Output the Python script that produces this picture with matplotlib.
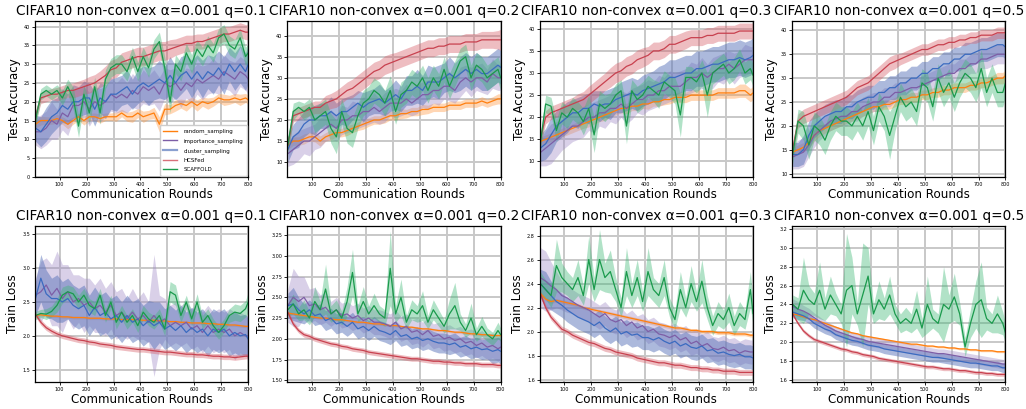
import numpy as np
import matplotlib
matplotlib.use("Agg")
import matplotlib.pyplot as plt
from matplotlib.lines import Line2D

rounds = np.append(np.arange(10, 800, 20), 800)
methods = ["random_sampling", "importance_sampling", "cluster_sampling", "HCSFed", "SCAFFOLD"]
q_labels = ["0.1", "0.2", "0.3", "0.5"]

# ---------------- Test accuracy, q = 0.1 ----------------
acc_q01_random = [14,15,15,15,15.5,15,14,15,16,15, 16,16,15.5,16,16,16,17,16,16,17, 16,16.5,17,14,18,18,19,19.5,19,20, 19,20,19.5,20,21,20.5,20.5,21,20.5,21, 20.5]
acc_q01_importance = [12,12,13,15,14,17,16,19,19,20, 18,20,19,20,22,21,22,21,23,22, 24,23,24,22,25,24,25,23,25,24, 26,25,26,27,26,28,27,26,28,27, 26]
acc_q01_cluster = [13,12,14,16,17,19,18,20,20,21, 21,18,21,20,22,22,23,24,22,24, 25,24,25,26,25,27,25,27,28,26, 28,26,28,27,29,27,30,28,30,28, 30]
acc_q01_hcsfed = [16,21,21.5,22,22,22.5,23,23,23.5,24, 24.5,25,26,27,28.5,29,30.5,31,31.5,32, 32,32.5,33,33.5,33.5,34,34.5,35,35.5,35.5, 36,36,36.5,37,37.5,38,38,38.5,39,38.5, 38.5]
acc_q01_scaffold = [15,22,23,22,23,21,24,21,13.5,22, 17,24,17,26,29,30,30,28,32,28, 32,29,34,36,29,20,30,28,33,30, 34,32,35,33,37,38,35,34,37,32, 33]
acc_q01_random_sd = [1.0,1.2,1.0,1.0,1.2,1.0,1.2,1.0,1.0,1.2, 1.0,1.0,1.2,1.0,1.0,1.2,1.0,1.2,1.5,1.2, 1.5,1.2,1.5,2.0,1.5,1.2,1.5,1.2,1.5,1.2, 1.5,1.2,1.5,1.2,1.2,1.5,1.2,1.2,1.5,1.2, 1.2]
acc_q01_importance_sd = [3.5,4.5,4.5,5.0,4.0,4.5,5.0,4.0,4.5,4.0, 4.5,4.0,4.5,4.0,4.5,4.0,4.5,4.0,4.5,4.0, 4.5,4.0,4.5,4.5,4.0,4.5,4.0,4.5,4.0,4.5, 4.0,4.5,4.0,4.5,4.0,4.5,4.0,4.5,4.0,4.0, 4.0]
acc_q01_cluster_sd = [3.5,4.0,4.5,4.5,4.0,4.5,4.0,4.5,4.0,4.5, 4.0,4.5,4.0,4.5,4.0,4.5,4.0,4.5,4.0,4.5, 4.5,5.0,4.5,5.0,4.5,5.0,4.5,5.0,4.5,5.0, 4.5,5.0,4.5,5.0,4.5,5.0,4.5,5.0,5.0,5.0, 5.0]
acc_q01_hcsfed_sd = [1.5,1.5,1.5,1.5,1.8,1.8,1.8,2.0,2.0,2.0, 2.2,2.2,2.2,2.5,2.5,2.5,2.5,2.5,2.5,2.5, 2.5,2.5,2.5,2.5,2.5,2.5,2.2,2.2,2.2,2.2, 2.0,2.0,2.0,2.0,2.0,2.0,2.0,2.0,2.0,2.0, 2.0]
acc_q01_scaffold_sd = [2.0,1.5,1.5,1.5,1.5,2.0,2.0,3.0,3.0,2.5, 3.0,2.5,3.0,2.5,2.5,2.5,2.5,2.5,2.5,2.5, 2.5,2.5,2.5,2.5,3.0,3.0,2.5,2.5,2.5,2.5, 2.5,2.5,2.5,2.5,2.5,2.5,2.5,2.5,2.5,2.5, 2.5]

# ---------------- Test accuracy, q = 0.2 ----------------
acc_q02_random = [14,15,15,15.5,16,16,15,16,16.5,17, 17,17.5,18,18.5,19,19.5,20,20,20.5,21, 21,21.5,21.5,22,22,22.5,22.5,23,23,23, 23.5,23.5,23.5,24,24,24,24.5,24,24.5,25, 25]
acc_q02_importance = [12,13,14,15,15,16,17,18,19,18, 20,20,21,21,22,22,23,22,23,24, 24,24,25,24,25,26,26,27,27,28, 28,27,29,30,29,30,30,29,31,30, 30]
acc_q02_cluster = [13,16,17,19,20,20,21,21,22,21, 22,22,23,24,23,24,24.5,25,24,25, 26,25,27,27,28,27,29,29,29,30, 31,30,31,32,31,32,31,31,32,33, 32.5]
acc_q02_hcsfed = [14,21,21.5,22,22.5,23,23,24,24.5,25, 26,27,27.5,28.5,29.5,30.5,31.5,32,33,33.5, 34,34.5,35,35.5,36,36.5,37,37,37.5,37.5, 38,38,38,38.5,38.5,38.5,39,39,39,39, 39]
acc_q02_scaffold = [14,22,23,22,23,20,21,22,18,16, 22,18,17,21,24,25,27,26,24,27, 22,26,27,29,28,30,27,30,28,32, 28,31,34,35,30,33,32,30,31,32, 30]
acc_q02_random_sd = [1.0,1.0,1.0,1.2,1.0,1.2,1.2,1.0,1.2,1.0, 1.0,1.2,1.0,1.0,1.2,1.0,1.0,1.0,1.2,1.0, 1.0,1.2,1.0,1.0,1.0,1.2,1.0,1.0,1.0,1.0, 1.0,1.0,1.0,1.0,1.0,1.0,1.0,1.0,1.0,1.2, 1.2]
acc_q02_importance_sd = [3.0,3.5,3.5,3.0,3.5,3.0,3.5,3.0,3.5,3.0, 3.5,3.0,3.5,3.0,3.5,3.0,3.5,3.0,3.5,3.0, 3.5,3.0,3.5,3.0,3.5,3.0,3.5,3.0,3.5,3.0, 3.5,3.0,3.5,3.0,3.5,3.0,3.5,3.0,3.5,3.0, 3.0]
acc_q02_cluster_sd = [3.0,3.0,3.5,3.0,3.0,3.5,3.0,3.0,3.5,3.0, 3.0,3.5,3.0,3.0,3.5,3.0,3.0,3.5,3.0,3.0, 3.5,3.0,3.5,3.5,4.0,3.5,4.0,3.5,4.0,3.5, 4.0,3.5,4.0,4.0,4.0,4.0,4.0,4.0,4.0,4.0, 4.0]
acc_q02_hcsfed_sd = [1.5,1.5,1.5,1.5,1.5,1.5,1.5,1.8,1.8,2.0, 2.0,2.0,2.2,2.2,2.2,2.2,2.2,2.2,2.2,2.2, 2.0,2.0,2.0,2.0,2.0,2.0,2.0,2.0,2.0,2.0, 2.0,2.0,2.0,2.0,2.0,2.0,2.0,2.0,2.0,2.2, 2.5]
acc_q02_scaffold_sd = [2.0,2.0,1.5,2.0,2.0,3.0,3.0,3.0,3.5,4.0, 3.0,3.5,3.5,3.0,3.0,3.0,3.0,3.0,3.0,3.5, 3.0,3.0,3.0,3.0,3.0,3.0,3.0,3.0,3.0,3.0, 3.0,3.0,3.0,3.0,3.0,3.0,3.0,3.0,3.0,3.0, 3.0]

# ---------------- Test accuracy, q = 0.3 ----------------
acc_q03_random = [14.5,15,15.5,16,16.5,17,17.5,18,18.5,19, 19.5,20,20.5,21,21.5,22,22,22.5,22.5,23, 23,23.5,23.5,24,24,24.5,24.5,24.5,25,25, 25,25,25,25.5,25.5,25.5,25.5,26,26,25, 25.5]
acc_q03_importance = [12,13,14,15,16,17,18,18,19,20, 20,21,21,22,22,23,22,23,24,24, 25,25,26,26,27,27,27,28,29,29, 30,29,30,31,31,32,31,32,33,33, 33]
acc_q03_cluster = [13,14,16,18,19,20,21,21,22,22, 23,22.5,23,23,24,24.5,25,25.5,25,26, 26.5,27,27.5,28,29,29,29.5,30,30,31, 31,31.5,32,32,32.5,33,33,33.5,33,33.5, 34]
acc_q03_hcsfed = [15,20,21,21.5,22,22.5,23,23.5,24,25, 26,27,28,29,30,30.5,31.5,32,33,33.5, 34,35,35,35.5,36.5,36.5,37,37.5,38,38, 38,38.5,38.5,39,39,39,39,39.5,39.5,39.5, 39.5]
acc_q03_scaffold = [14,23,22.5,17,21,20,22,21,19,22, 16,23,22,23,25,26,18,26,24,25, 27,26,25,28,27,26,20.5,29,29,28, 30,25,30,31,32,30,31,33,30,31, 29.5]
acc_q03_random_sd = [1.0,1.0,1.0,1.0,1.0,1.0,1.0,1.0,1.0,1.2, 1.0,1.0,1.2,1.0,1.0,1.0,1.2,1.0,1.0,1.0, 1.2,1.0,1.0,1.2,1.0,1.0,1.2,1.2,1.2,1.2, 1.2,1.2,1.2,1.2,1.2,1.2,1.2,1.5,1.5,1.5, 1.5]
acc_q03_importance_sd = [3.0,4.0,4.5,4.0,3.5,3.5,3.5,3.0,3.5,3.0, 3.5,3.0,3.5,3.0,3.5,3.0,3.5,3.5,3.0,3.5, 3.5,3.0,3.5,3.0,3.5,3.0,3.5,3.0,3.5,3.0, 3.5,3.0,3.5,3.0,3.5,3.0,3.5,3.0,3.5,3.0, 3.0]
acc_q03_cluster_sd = [3.0,3.5,4.0,3.5,3.5,3.5,3.0,3.5,3.0,3.5, 3.0,3.5,3.0,3.5,3.0,3.5,3.5,3.5,3.5,3.5, 3.5,3.5,4.0,4.0,4.0,4.0,4.0,4.0,4.0,4.0, 4.0,4.0,4.0,4.0,4.0,4.0,4.0,4.0,4.0,4.0, 4.0]
acc_q03_hcsfed_sd = [1.5,1.5,1.5,1.5,1.5,1.5,1.5,1.8,1.8,2.0, 2.0,2.0,2.0,2.2,2.2,2.2,2.2,2.2,2.2,2.2, 2.0,2.0,2.0,2.0,2.0,2.0,2.0,2.0,1.8,1.8, 1.8,1.8,1.8,1.8,1.8,1.8,1.8,1.8,1.8,1.8, 1.8]
acc_q03_scaffold_sd = [2.0,2.0,2.0,2.5,2.5,2.5,2.5,2.5,3.0,3.0, 4.0,3.0,3.0,2.5,2.5,2.5,4.0,2.5,3.0,3.0, 2.5,2.5,3.0,2.5,2.5,3.0,5.0,2.5,2.5,2.5, 3.0,5.0,2.5,2.5,2.5,2.5,2.5,2.5,2.5,2.5, 2.5]

# ---------------- Test accuracy, q = 0.5 ----------------
acc_q05_random = [14.5,15,15.5,16.5,18,19,19.5,20,20.5,21, 21.5,22,22.5,23,23.5,24,24,24.5,24.5,25, 25.5,25.5,26,26,26.5,26.5,27,27,27.5,27.5, 28,28,28,28.5,28.5,29,29,29.5,30,30, 30.5]
acc_q05_importance = [13.5,14,14.5,16,18,19,20,21,21.5,22, 22,23,23,24,24.5,25,25,26,26,27, 27,27.5,28,28,28.5,29,29.5,30,30.5,31, 31,32,32,33,33,34,34,34.5,35,35, 35]
acc_q05_cluster = [14,14,15,18,20,21,22,22.5,23,23, 24,24,25,25.5,26,26,27,27,28,28, 29,29,30,30,31,31,32,32,33,33, 34,34,35,35,35.5,36,36,36.5,37,37, 36.5]
acc_q05_hcsfed = [15,21,22,22.5,23,23.5,24,24.5,25,25.5, 26,27,28,28.5,29,30,31,32,33,33.5, 34,34.5,35,35.5,36,36,36.5,37,37,37.5, 37.5,38,38,38.5,38.5,39,39,39,39.5,39.5, 39.5]
acc_q05_scaffold = [14,21,20,16,20,19,17,20,22,21, 21,20,22,20,23,19,24,22,18,22, 26,24,25,23,29,28,24,30,27,29, 26,29,31,30,28,32,27,30,27,27, 29]
acc_q05_random_sd = [1.0,1.0,1.0,1.2,1.2,1.2,1.0,1.0,1.0,1.0, 1.0,1.0,1.0,1.0,1.0,1.0,1.0,1.0,1.0,1.0, 1.0,1.0,1.0,1.0,1.0,1.0,1.0,1.0,1.0,1.0, 1.0,1.0,1.0,1.0,1.0,1.0,1.0,1.0,1.2,1.2, 1.2]
acc_q05_importance_sd = [2.5,3.0,3.0,2.5,2.5,2.0,2.0,2.0,2.0,2.0, 2.0,2.0,2.0,2.0,2.0,2.0,2.0,2.0,2.0,2.0, 2.0,2.0,2.0,2.0,2.0,2.0,2.0,2.0,2.0,2.0, 2.0,2.0,2.0,2.0,2.0,2.0,2.0,2.0,2.0,2.0, 2.0]
acc_q05_cluster_sd = [2.5,2.5,3.0,3.0,2.5,2.5,2.5,2.5,2.5,2.5, 2.5,2.5,2.5,2.5,2.5,2.5,2.5,2.5,2.5,2.5, 2.5,2.5,2.5,2.5,2.5,2.5,2.5,2.5,2.5,2.5, 2.5,2.5,2.5,2.5,2.5,2.5,2.5,2.5,2.5,2.5, 2.5]
acc_q05_hcsfed_sd = [1.5,1.5,1.5,1.5,1.5,1.5,1.5,1.5,1.5,1.5, 1.5,1.5,1.5,1.5,1.5,1.5,1.5,1.5,1.5,1.5, 1.2,1.2,1.2,1.2,1.2,1.2,1.2,1.2,1.2,1.2, 1.2,1.2,1.2,1.2,1.2,1.2,1.2,1.2,1.2,1.2, 1.2]
acc_q05_scaffold_sd = [2.0,2.5,3.0,3.0,3.0,3.0,3.0,3.0,3.0,3.0, 3.0,3.0,3.0,3.0,3.0,3.0,3.0,3.0,5.0,3.0, 3.0,3.0,3.0,3.0,3.0,3.0,3.0,3.0,3.0,3.0, 3.0,3.0,3.0,3.0,3.0,4.0,3.0,3.0,3.0,3.0, 3.0]

# ---------------- Train loss, q = 0.1 ----------------
loss_q01_random = [2.30,2.31,2.30,2.29,2.29,2.28,2.28,2.27,2.27,2.27, 2.26,2.26,2.26,2.25,2.25,2.25,2.24,2.24,2.24,2.24, 2.23,2.23,2.23,2.22,2.22,2.21,2.21,2.20,2.20,2.19, 2.19,2.19,2.18,2.18,2.17,2.17,2.16,2.16,2.15,2.14, 2.14]
loss_q01_importance = [2.60,2.65,2.75,2.60,2.70,2.55,2.65,2.50,2.55,2.45, 2.50,2.40,2.45,2.35,2.45,2.30,2.35,2.25,2.35,2.25, 2.30,2.20,2.30,2.20,2.25,2.15,2.20,2.15,2.20,2.10, 2.15,2.05,2.15,2.05,2.10,2.05,2.10,2.00,2.05,2.00, 2.00]
loss_q01_cluster = [2.55,2.85,2.62,2.55,2.55,2.50,2.55,2.45,2.40,2.45, 2.30,2.42,2.30,2.35,2.25,2.30,2.20,2.30,2.20,2.25, 2.15,2.22,2.15,2.20,2.10,2.15,2.08,2.15,2.05,2.12, 2.05,2.10,2.00,2.10,2.05,2.10,2.00,2.05,2.00,2.02, 1.95]
loss_q01_hcsfed = [2.32,2.20,2.12,2.07,2.03,2.00,1.98,1.96,1.94,1.93, 1.91,1.90,1.88,1.87,1.86,1.84,1.83,1.82,1.81,1.80, 1.80,1.79,1.78,1.77,1.76,1.76,1.75,1.74,1.73,1.73, 1.72,1.72,1.71,1.70,1.70,1.69,1.69,1.68,1.69,1.70, 1.70]
loss_q01_scaffold = [2.30,2.33,2.32,2.36,2.45,2.60,2.65,2.62,2.50,2.60, 2.45,2.40,2.60,2.30,2.50,2.20,2.35,2.20,2.30,2.15, 2.35,2.25,2.20,2.30,2.10,2.65,2.60,2.30,2.50,2.25, 2.50,2.20,2.30,2.15,2.05,2.15,2.30,2.35,2.33,2.40, 2.50]
loss_q01_random_sd = [0.02,0.02,0.02,0.02,0.02,0.02,0.02,0.02,0.02,0.02, 0.02,0.02,0.02,0.02,0.02,0.02,0.02,0.02,0.02,0.02, 0.02,0.02,0.02,0.02,0.02,0.02,0.02,0.02,0.02,0.02, 0.02,0.02,0.02,0.02,0.02,0.02,0.02,0.02,0.02,0.02, 0.02]
loss_q01_importance_sd = [0.25,0.45,0.40,0.45,0.55,0.50,0.40,0.40,0.35,0.40, 0.35,0.35,0.40,0.35,0.35,0.35,0.35,0.30,0.35,0.30, 0.35,0.30,0.90,0.40,0.30,0.30,0.30,0.30,0.30,0.30, 0.30,0.30,0.30,0.30,0.30,0.30,0.30,0.35,0.30,0.30, 0.30]
loss_q01_cluster_sd = [0.25,0.35,0.35,0.30,0.35,0.30,0.30,0.30,0.30,0.30, 0.30,0.30,0.30,0.30,0.30,0.30,0.30,0.30,0.30,0.30, 0.30,0.30,0.35,0.30,0.30,0.30,0.30,0.30,0.30,0.30, 0.30,0.30,0.30,0.30,0.30,0.30,0.30,0.30,0.30,0.30, 0.30]
loss_q01_hcsfed_sd = [0.04,0.04,0.04,0.04,0.04,0.04,0.04,0.04,0.04,0.04, 0.04,0.04,0.04,0.04,0.04,0.04,0.04,0.04,0.04,0.04, 0.04,0.04,0.04,0.04,0.04,0.04,0.04,0.04,0.04,0.04, 0.04,0.04,0.04,0.04,0.04,0.04,0.04,0.04,0.04,0.04, 0.04]
loss_q01_scaffold_sd = [0.06,0.06,0.08,0.08,0.10,0.12,0.10,0.10,0.10,0.10, 0.10,0.10,0.10,0.10,0.10,0.10,0.10,0.10,0.10,0.10, 0.10,0.10,0.10,0.10,0.10,0.15,0.15,0.10,0.10,0.10, 0.12,0.10,0.10,0.10,0.10,0.10,0.10,0.12,0.12,0.12, 0.15]

# ---------------- Train loss, q = 0.2 ----------------
loss_q02_random = [2.31,2.30,2.29,2.28,2.27,2.26,2.25,2.25,2.24,2.23, 2.23,2.22,2.21,2.20,2.20,2.19,2.18,2.18,2.17,2.16, 2.16,2.15,2.14,2.14,2.13,2.12,2.12,2.11,2.10,2.10, 2.09,2.08,2.08,2.07,2.06,2.06,2.05,2.05,2.04,2.04, 2.04]
loss_q02_importance = [2.40,2.50,2.45,2.50,2.40,2.42,2.35,2.38,2.30,2.35, 2.28,2.30,2.25,2.28,2.22,2.25,2.20,2.20,2.18,2.15, 2.20,2.12,2.15,2.08,2.10,2.05,2.10,2.03,2.05,2.00, 2.02,1.98,2.00,1.95,1.97,1.92,1.95,1.90,1.92,1.88, 1.90]
loss_q02_cluster = [2.40,2.42,2.35,2.30,2.35,2.28,2.30,2.22,2.25,2.18, 2.20,2.15,2.20,2.12,2.15,2.10,2.15,2.10,2.08,2.05, 2.10,2.03,2.05,2.00,2.02,1.98,2.00,1.97,1.95,1.95, 1.93,1.95,1.90,1.92,1.88,1.90,1.87,1.88,1.85,1.87, 1.85]
loss_q02_hcsfed = [2.32,2.18,2.10,2.05,2.03,2.00,1.98,1.96,1.94,1.93, 1.91,1.90,1.88,1.87,1.86,1.84,1.83,1.82,1.81,1.80, 1.79,1.78,1.77,1.76,1.76,1.75,1.74,1.73,1.73,1.72, 1.72,1.71,1.71,1.70,1.70,1.70,1.69,1.69,1.69,1.68, 1.68]
loss_q02_scaffold = [2.35,2.42,2.30,2.35,2.25,2.45,2.35,2.60,2.30,2.35, 2.25,2.45,2.80,2.30,2.45,2.30,2.40,2.30,2.25,2.85, 2.30,2.50,2.20,2.35,2.30,2.40,2.20,2.35,2.25,2.15, 2.30,2.40,2.20,2.10,2.25,2.05,2.15,2.05,2.00,2.10, 2.05]
loss_q02_random_sd = [0.015,0.015,0.015,0.015,0.015,0.015,0.015,0.015,0.015,0.015, 0.015,0.015,0.015,0.015,0.015,0.015,0.015,0.015,0.015,0.015, 0.015,0.015,0.015,0.015,0.015,0.015,0.015,0.015,0.015,0.015, 0.015,0.015,0.015,0.015,0.015,0.015,0.015,0.015,0.015,0.015, 0.015]
loss_q02_importance_sd = [0.20,0.35,0.30,0.25,0.20,0.20,0.18,0.18,0.15,0.15, 0.15,0.15,0.15,0.15,0.15,0.15,0.15,0.15,0.15,0.15, 0.15,0.15,0.15,0.15,0.15,0.15,0.15,0.15,0.15,0.15, 0.15,0.15,0.15,0.15,0.15,0.15,0.15,0.15,0.15,0.15, 0.15]
loss_q02_cluster_sd = [0.15,0.20,0.15,0.12,0.12,0.12,0.12,0.12,0.12,0.12, 0.12,0.12,0.12,0.12,0.12,0.12,0.12,0.12,0.12,0.12, 0.12,0.12,0.12,0.12,0.12,0.12,0.12,0.12,0.12,0.12, 0.12,0.12,0.12,0.12,0.12,0.12,0.12,0.12,0.15,0.15, 0.15]
loss_q02_hcsfed_sd = [0.03,0.03,0.03,0.03,0.03,0.03,0.03,0.03,0.03,0.03, 0.03,0.03,0.03,0.03,0.03,0.03,0.03,0.03,0.03,0.03, 0.03,0.03,0.03,0.03,0.03,0.03,0.03,0.03,0.03,0.03, 0.03,0.03,0.03,0.03,0.03,0.03,0.03,0.03,0.03,0.03, 0.03]
loss_q02_scaffold_sd = [0.08,0.12,0.08,0.12,0.08,0.18,0.10,0.30,0.10,0.12, 0.08,0.18,0.28,0.10,0.18,0.10,0.15,0.10,0.10,0.45, 0.10,0.22,0.08,0.12,0.10,0.18,0.08,0.12,0.10,0.08, 0.18,0.28,0.10,0.08,0.18,0.08,0.12,0.08,0.08,0.10, 0.08]

# ---------------- Train loss, q = 0.3 ----------------
loss_q03_random = [2.32,2.27,2.25,2.26,2.25,2.24,2.23,2.22,2.20,2.19, 2.18,2.17,2.16,2.15,2.14,2.13,2.12,2.11,2.10,2.09, 2.08,2.07,2.06,2.05,2.04,2.03,2.03,2.02,2.01,2.01, 2.00,2.00,2.00,1.99,1.99,1.99,1.98,1.98,1.98,1.97, 1.97]
loss_q03_importance = [2.45,2.42,2.38,2.35,2.30,2.28,2.25,2.22,2.20,2.18, 2.15,2.12,2.15,2.10,2.08,2.10,2.05,2.08,2.03,2.05, 2.00,2.02,1.98,1.97,1.95,1.97,1.93,1.95,1.90,1.92, 1.88,1.90,1.86,1.85,1.87,1.84,1.85,1.82,1.84,1.83, 1.83]
loss_q03_cluster = [2.40,2.35,2.30,2.25,2.22,2.18,2.15,2.12,2.10,2.08, 2.05,2.08,2.03,2.00,2.03,1.98,2.00,1.97,1.98,1.95, 1.95,1.93,1.95,1.92,1.90,1.92,1.88,1.90,1.87,1.86, 1.88,1.84,1.85,1.82,1.83,1.81,1.80,1.81,1.79,1.79, 1.78]
loss_q03_hcsfed = [2.32,2.20,2.12,2.07,2.02,2.00,1.97,1.95,1.93,1.91, 1.90,1.88,1.86,1.85,1.83,1.82,1.81,1.80,1.78,1.77, 1.76,1.75,1.74,1.74,1.73,1.72,1.72,1.71,1.70,1.70, 1.69,1.69,1.68,1.68,1.67,1.67,1.67,1.66,1.66,1.66, 1.66]
loss_q03_scaffold = [2.40,2.35,2.30,2.55,2.45,2.40,2.35,2.45,2.30,2.60, 2.35,2.60,2.45,2.50,2.35,2.20,2.50,2.30,2.45,2.25, 2.50,2.35,2.30,2.45,2.20,2.10,2.35,2.20,2.40,2.25, 2.42,2.20,2.05,2.15,2.10,2.20,2.05,2.15,2.10,2.35, 2.15]
loss_q03_random_sd = [0.015,0.015,0.015,0.015,0.015,0.015,0.015,0.015,0.015,0.015, 0.015,0.015,0.015,0.015,0.015,0.015,0.015,0.015,0.015,0.015, 0.015,0.015,0.015,0.015,0.015,0.015,0.015,0.015,0.015,0.015, 0.015,0.015,0.015,0.015,0.015,0.015,0.015,0.015,0.015,0.015, 0.015]
loss_q03_importance_sd = [0.25,0.25,0.20,0.15,0.12,0.12,0.10,0.10,0.10,0.10, 0.10,0.10,0.10,0.10,0.10,0.10,0.10,0.10,0.10,0.10, 0.10,0.10,0.10,0.10,0.10,0.10,0.10,0.10,0.10,0.10, 0.10,0.10,0.10,0.10,0.10,0.10,0.10,0.10,0.10,0.10, 0.10]
loss_q03_cluster_sd = [0.12,0.15,0.12,0.10,0.10,0.10,0.10,0.10,0.10,0.10, 0.10,0.10,0.10,0.10,0.10,0.10,0.10,0.10,0.10,0.10, 0.10,0.10,0.10,0.10,0.10,0.10,0.10,0.10,0.10,0.10, 0.10,0.10,0.10,0.10,0.10,0.10,0.10,0.10,0.10,0.10, 0.10]
loss_q03_hcsfed_sd = [0.025,0.025,0.025,0.025,0.025,0.025,0.025,0.025,0.025,0.025, 0.025,0.025,0.025,0.025,0.025,0.025,0.025,0.025,0.025,0.025, 0.025,0.025,0.025,0.025,0.025,0.025,0.025,0.025,0.025,0.025, 0.025,0.025,0.025,0.025,0.025,0.025,0.025,0.025,0.025,0.025, 0.025]
loss_q03_scaffold_sd = [0.10,0.08,0.10,0.22,0.12,0.10,0.10,0.15,0.08,0.20, 0.10,0.25,0.12,0.18,0.10,0.08,0.20,0.10,0.15,0.08, 0.20,0.10,0.10,0.15,0.08,0.08,0.15,0.08,0.15,0.08, 0.18,0.10,0.08,0.10,0.08,0.12,0.08,0.10,0.08,0.15, 0.10]

# ---------------- Train loss, q = 0.5 ----------------
loss_q05_random = [2.30,2.29,2.27,2.25,2.24,2.22,2.20,2.18,2.16,2.14, 2.12,2.10,2.09,2.07,2.06,2.05,2.04,2.03,2.02,2.01, 2.00,1.99,1.98,1.98,1.97,1.96,1.96,1.95,1.95,1.94, 1.94,1.93,1.93,1.92,1.92,1.91,1.91,1.91,1.90,1.90, 1.90]
loss_q05_importance = [2.38,2.35,2.33,2.30,2.26,2.22,2.18,2.15,2.12,2.10, 2.08,2.06,2.04,2.03,2.01,2.00,1.99,1.98,1.97,1.96, 1.95,1.94,1.93,1.92,1.91,1.90,1.89,1.88,1.88,1.87, 1.86,1.85,1.84,1.83,1.82,1.81,1.80,1.79,1.78,1.77, 1.77]
loss_q05_cluster = [2.32,2.30,2.28,2.25,2.20,2.17,2.14,2.12,2.08,2.06, 2.04,2.02,2.01,1.99,1.97,1.96,1.95,1.93,1.92,1.91, 1.90,1.89,1.88,1.87,1.86,1.85,1.84,1.84,1.83,1.82, 1.81,1.80,1.79,1.78,1.78,1.77,1.76,1.75,1.75,1.73, 1.73]
loss_q05_hcsfed = [2.30,2.20,2.12,2.07,2.03,2.01,1.99,1.97,1.95,1.93, 1.92,1.90,1.89,1.87,1.86,1.85,1.83,1.82,1.81,1.80, 1.79,1.78,1.77,1.76,1.75,1.74,1.74,1.73,1.72,1.72, 1.71,1.70,1.70,1.69,1.68,1.68,1.67,1.67,1.66,1.66, 1.66]
loss_q05_scaffold = [2.40,2.35,2.55,2.45,2.40,2.55,2.35,2.50,2.40,2.30, 2.55,2.60,2.30,2.50,2.70,2.30,2.45,2.35,2.50,2.30, 2.20,2.25,2.20,2.35,2.15,2.40,2.25,2.20,2.40,2.35, 2.48,2.30,1.95,2.20,2.40,2.45,2.25,2.20,2.30,2.20, 2.10]
loss_q05_random_sd = [0.01,0.01,0.01,0.01,0.01,0.01,0.01,0.01,0.01,0.01, 0.01,0.01,0.01,0.01,0.01,0.01,0.01,0.01,0.01,0.01, 0.01,0.01,0.01,0.01,0.01,0.01,0.01,0.01,0.01,0.01, 0.01,0.01,0.01,0.01,0.01,0.01,0.01,0.01,0.01,0.01, 0.01]
loss_q05_importance_sd = [0.08,0.08,0.06,0.06,0.05,0.05,0.05,0.05,0.05,0.05, 0.05,0.05,0.05,0.05,0.05,0.05,0.05,0.05,0.05,0.05, 0.05,0.05,0.05,0.05,0.05,0.05,0.05,0.05,0.05,0.05, 0.05,0.05,0.05,0.05,0.05,0.05,0.05,0.05,0.05,0.05, 0.05]
loss_q05_cluster_sd = [0.06,0.06,0.05,0.05,0.05,0.05,0.05,0.05,0.05,0.05, 0.05,0.05,0.05,0.05,0.05,0.05,0.05,0.05,0.05,0.05, 0.05,0.05,0.05,0.05,0.05,0.05,0.05,0.05,0.05,0.05, 0.05,0.05,0.05,0.05,0.05,0.05,0.05,0.05,0.05,0.05, 0.05]
loss_q05_hcsfed_sd = [0.02,0.02,0.02,0.02,0.02,0.02,0.02,0.02,0.02,0.02, 0.02,0.02,0.02,0.02,0.02,0.02,0.02,0.02,0.02,0.02, 0.02,0.02,0.02,0.02,0.02,0.02,0.02,0.02,0.02,0.02, 0.02,0.02,0.02,0.02,0.02,0.02,0.02,0.02,0.02,0.02, 0.02]
loss_q05_scaffold_sd = [0.10,0.12,0.35,0.15,0.12,0.30,0.12,0.20,0.12,0.10, 0.60,0.30,0.12,0.55,0.30,0.10,0.20,0.12,0.20,0.10, 0.10,0.12,0.10,0.20,0.10,0.30,0.10,0.10,0.40,0.15, 0.25,0.12,0.10,0.15,0.25,0.40,0.12,0.10,0.20,0.12, 0.10]

# ---------------- assembling ----------------
acc_panels = [
    [acc_q01_random, acc_q01_importance, acc_q01_cluster, acc_q01_hcsfed, acc_q01_scaffold],
    [acc_q02_random, acc_q02_importance, acc_q02_cluster, acc_q02_hcsfed, acc_q02_scaffold],
    [acc_q03_random, acc_q03_importance, acc_q03_cluster, acc_q03_hcsfed, acc_q03_scaffold],
    [acc_q05_random, acc_q05_importance, acc_q05_cluster, acc_q05_hcsfed, acc_q05_scaffold],
]
acc_sd_panels = [
    [acc_q01_random_sd, acc_q01_importance_sd, acc_q01_cluster_sd, acc_q01_hcsfed_sd, acc_q01_scaffold_sd],
    [acc_q02_random_sd, acc_q02_importance_sd, acc_q02_cluster_sd, acc_q02_hcsfed_sd, acc_q02_scaffold_sd],
    [acc_q03_random_sd, acc_q03_importance_sd, acc_q03_cluster_sd, acc_q03_hcsfed_sd, acc_q03_scaffold_sd],
    [acc_q05_random_sd, acc_q05_importance_sd, acc_q05_cluster_sd, acc_q05_hcsfed_sd, acc_q05_scaffold_sd],
]
loss_panels = [
    [loss_q01_random, loss_q01_importance, loss_q01_cluster, loss_q01_hcsfed, loss_q01_scaffold],
    [loss_q02_random, loss_q02_importance, loss_q02_cluster, loss_q02_hcsfed, loss_q02_scaffold],
    [loss_q03_random, loss_q03_importance, loss_q03_cluster, loss_q03_hcsfed, loss_q03_scaffold],
    [loss_q05_random, loss_q05_importance, loss_q05_cluster, loss_q05_hcsfed, loss_q05_scaffold],
]
loss_sd_panels = [
    [loss_q01_random_sd, loss_q01_importance_sd, loss_q01_cluster_sd, loss_q01_hcsfed_sd, loss_q01_scaffold_sd],
    [loss_q02_random_sd, loss_q02_importance_sd, loss_q02_cluster_sd, loss_q02_hcsfed_sd, loss_q02_scaffold_sd],
    [loss_q03_random_sd, loss_q03_importance_sd, loss_q03_cluster_sd, loss_q03_hcsfed_sd, loss_q03_scaffold_sd],
    [loss_q05_random_sd, loss_q05_importance_sd, loss_q05_cluster_sd, loss_q05_hcsfed_sd, loss_q05_scaffold_sd],
]

line_colors = ["#ff7f0e", "#7d5ea6", "#3b6bc0", "#c8414f", "#1a9a4c"]
fill_colors = ["#ff9a45", "#a08bc6", "#5a74ba", "#d65a66", "#3cb874"]
fill_alphas = [0.40, 0.40, 0.50, 0.40, 0.40]

acc_ylims = [(0, 41.5), (6.5, 43.5), (6.5, 41.8), (9.3, 42.0)]
acc_ticks = [np.arange(0, 41, 5), np.arange(10, 41, 5), np.arange(10, 41, 5), np.arange(10, 41, 5)]
loss_ylims = [(1.32, 3.62), (1.48, 3.36), (1.58, 2.88), (1.58, 3.23)]
loss_ticks = [np.arange(1.5, 3.51, 0.5), np.arange(1.5, 3.26, 0.25), np.arange(1.6, 2.81, 0.2), np.arange(1.6, 3.21, 0.2)]
loss_fmt = ["%.1f", "%.2f", "%.1f", "%.1f"]

fig, axes = plt.subplots(2, 4, figsize=(10.26, 4.09), dpi=100)
fig.subplots_adjust(left=0.034, right=0.98, top=0.949, bottom=0.066, wspace=0.183, hspace=0.314)

def draw(ax, series, sds, ylim, ticks, fmt, ylabel, q):
    for i, (m, s) in enumerate(zip(series, sds)):
        m = np.asarray(m, float)
        s = np.asarray(s, float)
        ax.fill_between(rounds, m - s, m + s, color=fill_colors[i], alpha=fill_alphas[i], lw=0)
        ax.plot(rounds, m, color=line_colors[i], lw=0.9)
    ax.set_xlim(8, 800)
    ax.set_ylim(*ylim)
    ax.set_xticks([100, 200, 300, 400, 500, 600, 700, 800])
    ax.set_yticks(ticks)
    ax.yaxis.set_major_formatter(matplotlib.ticker.FormatStrFormatter(fmt))
    ax.tick_params(labelsize=3.5, length=2, width=0.6, pad=1.5)
    ax.grid(True, color="#c8c8c8", lw=1.4)
    ax.set_axisbelow(True)
    for sp in ax.spines.values():
        sp.set_linewidth(0.9)
    ax.set_title("CIFAR10 non-convex \u03b1=0.001 q=" + q, fontsize=9.8, pad=4)
    ax.set_xlabel("Communication Rounds", fontsize=8.6, labelpad=1)
    ax.set_ylabel(ylabel, fontsize=8.6, labelpad=2)

for j in range(4):
    draw(axes[0, j], acc_panels[j], acc_sd_panels[j], acc_ylims[j], acc_ticks[j], "%d", "Test Accuracy", q_labels[j])
    draw(axes[1, j], loss_panels[j], loss_sd_panels[j], loss_ylims[j], loss_ticks[j], loss_fmt[j], "Train Loss", q_labels[j])

handles = [Line2D([], [], color=line_colors[i], lw=1) for i in range(5)]
handles[2] = Line2D([], [], color="#8aa0d0", lw=1.6)
handles[3] = Line2D([], [], color="#d8707a", lw=1.0)
axes[0, 0].legend(handles, methods, loc="lower right", fontsize=4, frameon=True,
                  framealpha=1, edgecolor="#cccccc", fancybox=True, borderpad=0.6,
                  labelspacing=0.75, handlelength=2.5, handletextpad=1.2, borderaxespad=0.25)

fig.savefig("out.png", dpi=100)
